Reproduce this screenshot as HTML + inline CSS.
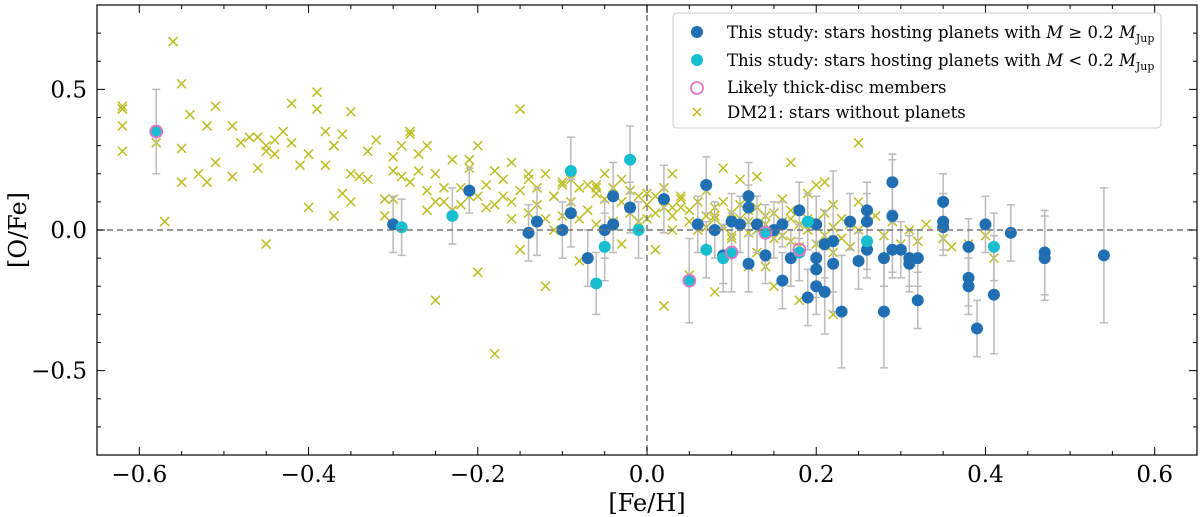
<!DOCTYPE html>
<html><head><meta charset="utf-8"><style>
body{margin:0;background:#fff;}
svg{display:block;font-family:"DejaVu Serif","Liberation Serif",serif;}
</style></head><body>
<svg id="chart" width="1200" height="517" xmlns="http://www.w3.org/2000/svg">
<g id="dm21"></g>
<g id="errs"></g>
<g id="marks"></g>
<g id="axes"></g>
<g id="legend">
<rect x="673" y="13" width="488" height="115" rx="4" fill="#fff" fill-opacity="0.85" stroke="#ccc"/>
<circle cx="697" cy="32" r="6" fill="#1f6fb2"/>
<text x="727" y="38" font-size="16.5">This study: stars hosting planets with <tspan font-style="italic">M</tspan> ≥  0.2 <tspan font-style="italic">M</tspan><tspan font-size="11" dy="4">Jup</tspan></text>
<circle cx="697" cy="60" r="6" fill="#17becf"/>
<text x="727" y="66" font-size="16.5">This study: stars hosting planets with <tspan font-style="italic">M</tspan> &lt; 0.2 <tspan font-style="italic">M</tspan><tspan font-size="11" dy="4">Jup</tspan></text>
<circle cx="697" cy="88" r="6" fill="none" stroke="#e377c2" stroke-width="1.8"/>
<text x="727" y="93" font-size="16.5">Likely thick-disc members</text>
<path d="M693,108L701,116M693,116L701,108" stroke="#bcbd22" stroke-width="1.5"/>
<text x="727" y="118" font-size="16.5">DM21: stars without planets</text>
</g>
</svg>
<script>
const dm21X=[-0.62,-0.62,-0.62,-0.62,-0.58,-0.57,-0.56,-0.55,-0.55,-0.54,-0.53,-0.52,-0.52,-0.51,-0.51,-0.49,-0.49,-0.48,-0.47,-0.46,-0.46,-0.45,-0.45,-0.44,-0.44,-0.43,-0.42,-0.42,-0.41,-0.4,-0.4,-0.39,-0.39,-0.38,-0.38,-0.37,-0.37,-0.37,-0.36,-0.36,-0.35,-0.35,-0.34,-0.33,-0.33,-0.32,-0.31,-0.31,-0.3,-0.3,-0.29,-0.29,-0.28,-0.28,-0.27,-0.27,-0.26,-0.26,-0.25,-0.25,-0.24,-0.24,-0.23,-0.23,-0.22,-0.22,-0.21,-0.21,-0.2,-0.2,-0.19,-0.19,-0.18,-0.18,-0.17,-0.17,-0.16,-0.16,-0.15,-0.15,-0.14,-0.14,-0.13,-0.13,-0.12,-0.12,-0.11,-0.11,-0.1,-0.1,-0.09,-0.09,-0.08,-0.08,-0.07,-0.07,-0.06,-0.06,-0.05,-0.05,-0.04,-0.04,-0.03,-0.03,-0.02,-0.02,-0.01,-0.01,0.0,0.0,0.01,0.01,0.02,0.02,0.03,0.03,0.04,0.04,0.05,0.05,0.06,0.06,0.07,0.07,0.08,0.08,0.09,0.09,0.1,0.1,0.11,0.11,0.12,0.12,0.13,0.13,0.14,0.14,0.15,0.15,0.16,0.16,0.17,0.17,0.18,0.18,0.19,0.19,0.2,0.2,0.21,0.21,0.22,0.22,0.23,0.23,0.24,0.24,0.25,0.25,0.26,0.27,0.28,0.29,0.3,0.31,0.32,0.33,0.35,0.36,0.38,0.4,0.41,-0.25,-0.2,-0.15,-0.12,-0.08,-0.03,0.02,0.05,0.08,0.12,0.15,0.18,0.22,-0.18,-0.1,0.0,0.09,0.13,0.17,-0.55,-0.45,-0.35,-0.28,-0.21,-0.14,-0.06,0.03,0.11,0.2,-0.3,-0.26,-0.16,-0.04,0.06,0.14,0.01,0.04,0.07,0.1,0.13,0.16,0.19,0.22,0.25,-0.02,0.03,0.08,0.12,0.17,0.21,-0.06,-0.11];
const dm21Y=[0.44,0.43,0.37,0.28,0.31,0.03,0.67,0.52,0.17,0.41,0.2,0.37,0.17,0.44,0.24,0.37,0.19,0.31,0.33,0.33,0.22,0.3,-0.05,0.32,0.27,0.35,0.31,0.45,0.23,0.08,0.27,0.49,0.43,0.35,0.23,0.05,0.3,0.3,0.13,0.34,0.1,0.2,0.19,0.28,0.18,0.32,0.11,0.05,0.26,0.21,0.19,0.3,0.17,0.35,0.27,0.21,0.14,0.3,0.2,0.1,0.15,0.1,0.07,0.25,0.15,0.09,0.22,0.12,0.3,0.12,0.16,0.08,0.21,0.09,0.18,0.12,0.24,0.1,0.14,0.43,0.06,0.2,0.15,0.09,0.2,0.04,0.12,0.0,0.17,0.05,0.18,0.1,0.15,0.04,0.16,0.07,0.13,0.02,0.11,0.2,0.15,0.03,0.1,0.18,0.08,0.14,0.03,0.12,0.09,0.04,0.06,0.12,0.08,0.15,0.0,0.05,0.08,0.12,0.03,0.07,0.1,0.02,0.05,0.14,0.04,0.08,0.01,0.1,-0.02,0.06,0.04,0.09,-0.01,0.03,0.08,0.0,0.05,0.02,-0.03,0.06,-0.02,0.03,0.07,-0.04,0.02,-0.06,0.04,0.0,-0.05,0.03,0.06,-0.02,0.01,-0.08,0.04,-0.03,0.02,-0.06,0.0,0.31,-0.04,0.05,-0.02,0.03,-0.05,0.0,-0.04,0.02,-0.03,-0.06,-0.05,-0.02,-0.1,-0.25,-0.15,-0.07,-0.2,-0.11,-0.05,-0.27,-0.16,-0.22,-0.13,-0.2,-0.25,-0.3,-0.44,0.16,0.13,0.22,0.19,0.24,0.29,0.28,0.42,0.34,0.25,0.18,0.15,0.2,0.18,0.16,0.11,0.07,0.04,0.02,0.0,-0.13,-0.07,0.11,0.01,-0.03,-0.08,0.11,0.13,0.09,0.1,0.06,0.08,0.05,0.07,0.04,0.17,0.16,0.12,0.1,0.06,0.04,0.09,0.13];
const bigX=[-0.3,-0.21,-0.14,-0.13,-0.1,-0.09,-0.07,-0.05,-0.04,-0.04,-0.02,0.02,0.06,0.07,0.08,0.09,0.1,0.11,0.12,0.12,0.12,0.13,0.14,0.15,0.16,0.16,0.17,0.18,0.19,0.2,0.2,0.2,0.2,0.21,0.21,0.22,0.22,0.23,0.24,0.25,0.26,0.26,0.26,0.28,0.28,0.29,0.29,0.29,0.3,0.31,0.31,0.32,0.32,0.35,0.35,0.35,0.38,0.38,0.38,0.39,0.4,0.41,0.43,0.47,0.47,0.54];
const bigY=[0.02,0.14,-0.01,0.03,0.0,0.06,-0.1,0.0,0.02,0.12,0.08,0.11,0.02,0.16,0.0,-0.09,0.03,0.02,0.12,0.08,-0.12,0.02,-0.09,0.0,0.02,-0.18,-0.1,0.07,-0.24,-0.1,-0.14,-0.2,0.02,-0.22,-0.05,-0.04,-0.12,-0.29,0.03,-0.11,0.07,0.03,-0.07,-0.1,-0.29,0.17,0.05,-0.07,-0.07,-0.12,-0.1,-0.25,-0.1,0.1,0.03,0.01,-0.06,-0.17,-0.2,-0.35,0.02,-0.23,-0.01,-0.08,-0.1,-0.09];
const bigErr=[0.1,0.08,0.1,0.12,0.1,0.12,0.1,0.1,0.1,0.12,0.09,0.12,0.1,0.1,0.1,0.1,0.1,0.1,0.12,0.08,0.1,0.1,0.1,0.1,0.08,0.1,0.1,0.1,0.1,0.1,0.1,0.1,0.1,0.15,0.12,0.25,0.1,0.2,0.1,0.1,0.1,0.1,0.1,0.1,0.2,0.1,0.2,0.1,0.1,0.1,0.1,0.1,0.1,0.1,0.1,0.1,0.1,0.1,0.1,0.1,0.1,0.21,0.1,0.15,0.15,0.24];
const smallX=[-0.58,-0.29,-0.23,-0.09,-0.06,-0.05,-0.02,-0.01,0.05,0.07,0.09,0.1,0.14,0.18,0.19,0.26,0.41];
const smallY=[0.35,0.01,0.05,0.21,-0.19,-0.06,0.25,0.0,-0.18,-0.07,-0.1,-0.08,-0.01,-0.08,0.03,-0.04,-0.06];
const smallErr=[0.15,0.1,0.1,0.12,0.11,0.12,0.12,0.1,0.15,0.1,0.12,0.14,0.1,0.1,0.1,0.1,0.12];
const thickX=[-0.58,0.05,0.1,0.14,0.18];
const thickY=[0.35,-0.18,-0.08,-0.01,-0.07];
const xTicks=[-0.6,-0.4,-0.2,0.0,0.2,0.4,0.6];
const xTickLabels=["−0.6","−0.4","−0.2","0.0","0.2","0.4","0.6"];
const yTicks=[-0.5,0.0,0.5];
const yTickLabels=["−0.5","0.0","0.5"];

const L=97,R=1197,T=5,B=455;
const X=v=>L+(v+0.65)/1.3*(R-L);
const Y=v=>B-(v+0.8)/1.6*(B-T);
const NS="http://www.w3.org/2000/svg";
function mk(tag,attrs,parent){const e=document.createElementNS(NS,tag);for(const k in attrs)e.setAttribute(k,attrs[k]);parent.appendChild(e);return e;}
const gD=document.getElementById('dm21'),gE=document.getElementById('errs'),gM=document.getElementById('marks'),gA=document.getElementById('axes');

dm21X.forEach((x,i)=>{const cx=X(x),cy=Y(dm21Y[i]);
 const p=mk('path',{d:`M${cx-4.5},${cy-4.5}L${cx+4.5},${cy+4.5}M${cx-4.5},${cy+4.5}L${cx+4.5},${cy-4.5}`,stroke:'#bcbd22','stroke-width':1.5},gD);
 
 });

function errs(xs,ys,es){xs.forEach((x,i)=>{const cx=X(x),y1=Y(ys[i]+es[i]),y2=Y(ys[i]-es[i]);
 const p=mk('path',{d:`M${cx},${y1}V${y2}M${cx-4},${y1}H${cx+4}M${cx-4},${y2}H${cx+4}`,stroke:'#bbb','stroke-width':1.5,fill:'none'},gE);
 
 });}
errs(bigX,bigY,bigErr);errs(smallX,smallY,smallErr);

const hz=mk('line',{x1:L,x2:R,y1:Y(0),y2:Y(0),stroke:'#777','stroke-width':1.5,'stroke-dasharray':'6,4'},gA);


const vz=mk('line',{x1:X(0),x2:X(0),y1:T,y2:B,stroke:'#777','stroke-width':1.5,'stroke-dasharray':'6,4'},gA);



bigX.forEach((x,i)=>{const c=mk('circle',{cx:X(x),cy:Y(bigY[i]),r:6,fill:'#1f6fb2'},gM);
 
 });
smallX.forEach((x,i)=>{const c=mk('circle',{cx:X(x),cy:Y(smallY[i]),r:6,fill:'#17becf'},gM);
 
 });
thickX.forEach((x,i)=>{const c=mk('circle',{cx:X(x),cy:Y(thickY[i]),r:6,fill:'none',stroke:'#e377c2','stroke-width':1.8},gM);
 
 });

const fr=mk('rect',{x:L,y:T,width:R-L,height:B-T,fill:'none',stroke:'#000','stroke-width':1.2},gA);


let ticks='';
for(let v=-0.65;v<=0.651;v+=0.05){const x=X(Math.round(v*100)/100);const maj=xTicks.some(t=>Math.abs(t-v)<1e-6);const len=maj?8:4;ticks+=`M${x},${B}v${-len}M${x},${T}v${len}`;}
for(let v=-0.8;v<=0.801;v+=0.1){const y=Y(Math.round(v*100)/100);const maj=yTicks.some(t=>Math.abs(t-v)<1e-6);const len=maj?8:4;ticks+=`M${L},${y}h${len}M${R},${y}h${-len}`;}
const tk=mk('path',{d:ticks,stroke:'#000','stroke-width':1},gA);


xTicks.forEach((v,i)=>{const t=mk('text',{x:X(v),y:482,'font-size':23,'text-anchor':'middle'},gA);t.textContent=xTickLabels[i];
 
 });
yTicks.forEach((v,i)=>{const t=mk('text',{x:L-10,y:Y(v)+8,'font-size':23,'text-anchor':'end'},gA);t.textContent=yTickLabels[i];
 
 });
const xt=mk('text',{x:(L+R)/2,y:511,'font-size':24,'text-anchor':'middle'},gA);xt.textContent='[Fe/H]';


const yt=mk('text',{x:0,y:0,'font-size':24,'text-anchor':'middle',transform:`translate(26,${(T+B)/2}) rotate(-90)`},gA);yt.textContent='[O/Fe]';


</script>
</body></html>
